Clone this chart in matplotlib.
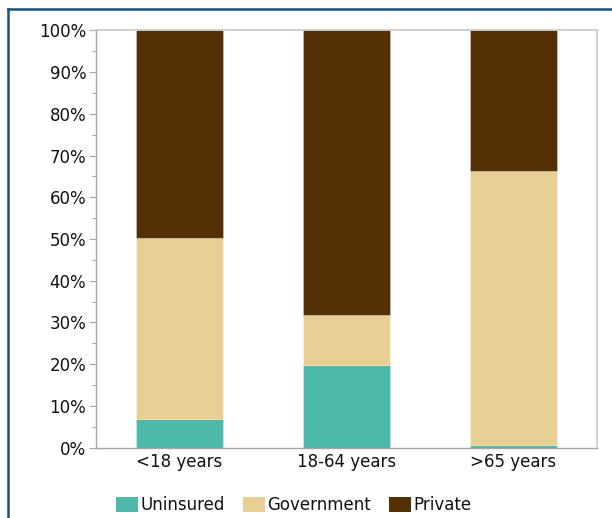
import matplotlib
matplotlib.use("Agg")
import matplotlib.pyplot as plt
from matplotlib.lines import Line2D
from matplotlib.patches import Patch
from matplotlib.ticker import MultipleLocator, PercentFormatter
import numpy as np

# Health insurance coverage by age group (% of population)
age_groups = ["<18 years", "18-64 years", ">65 years"]
uninsured = [6.8, 19.8, 0.7]
government = [43.4, 12.1, 65.6]
private = [49.8, 68.1, 33.7]

series_names = ["Uninsured", "Government", "Private"]
colors = ["#4CB9A9", "#E8D095", "#533104"]

plt.rcParams["font.family"] = ["DejaVu Sans"]

fig = plt.figure(figsize=(6.12, 5.18), dpi=100)
ax = fig.add_axes([96 / 612, 1 - 447.7 / 518, 501 / 612, 417.4 / 518])

x = np.arange(len(age_groups))
bottom = np.zeros(len(age_groups))
for name, vals, col in zip(series_names, [uninsured, government, private], colors):
    ax.bar(x, vals, width=0.515, bottom=bottom, color=col,
           edgecolor=(1, 1, 1, 0.35), linewidth=0.6, label=name, zorder=2)
    bottom += np.array(vals)

ax.set_xlim(-0.5, 2.5)
ax.set_ylim(0, 100)
ax.set_xticks(x)
ax.set_xticklabels(age_groups, fontsize=12, color="#111111")
ax.tick_params(axis="x", length=0, pad=4)

ax.yaxis.set_major_locator(MultipleLocator(10))
ax.yaxis.set_minor_locator(MultipleLocator(5))
ax.yaxis.set_major_formatter(PercentFormatter(decimals=0))
ax.tick_params(axis="y", which="major", length=5, width=0.8, color="#A6A6A6",
               labelsize=12, labelcolor="#111111", pad=2)
ax.tick_params(axis="y", which="minor", length=3, width=0.8, color="#A6A6A6")

for side in ["top", "right"]:
    ax.spines[side].set_color("#C8C8C8")
    ax.spines[side].set_linewidth(1.2)
for side in ["left", "bottom"]:
    ax.spines[side].set_color("#A6A6A6")
    ax.spines[side].set_linewidth(1.0)

handles = [Patch(facecolor=c, edgecolor="none") for c in colors]
fig.legend(handles, series_names, loc="center", ncol=3,
           bbox_to_anchor=(294 / 612, 1 - 505 / 518), frameon=False,
           fontsize=12, handlelength=1.3, handleheight=1.05,
           handletextpad=0.15, columnspacing=1.1, labelcolor="#111111")

# frame lines along the top and left edge of the slide
border = "#1F4E79"
fig.add_artist(Line2D([7.5 / 612, 1.0], [1 - 8.5 / 518, 1 - 8.5 / 518],
                      transform=fig.transFigure, color=border, linewidth=1.8,
                      solid_capstyle="projecting"))
fig.add_artist(Line2D([7.5 / 612, 7.5 / 612], [1 - 8.5 / 518, 0.0],
                      transform=fig.transFigure, color=border, linewidth=1.8,
                      solid_capstyle="projecting"))

fig.savefig("out.png", dpi=100)
